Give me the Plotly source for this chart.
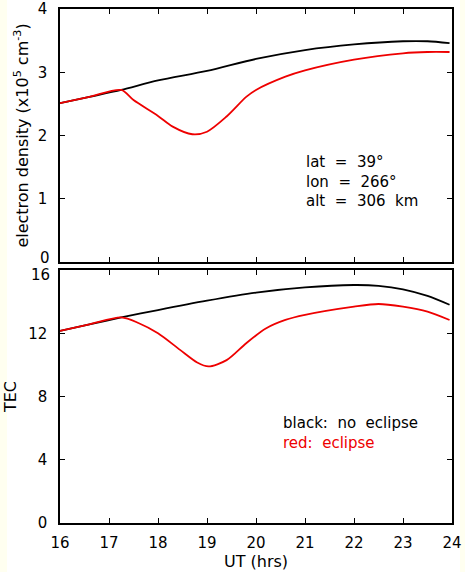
import plotly.graph_objects as go

# ---- data ----
t_ne_black = [16, 16.6, 17.25, 18, 19, 20, 21, 22, 23, 23.5, 23.95]
ne_black = [2.51, 2.61, 2.72, 2.87, 3.02, 3.21, 3.35, 3.44, 3.49, 3.49, 3.46]

t_ne_red = [16, 16.6, 17.25, 17.5, 18, 18.3, 18.7, 19, 19.4, 19.8, 20, 20.6, 21, 22, 23, 23.5, 23.95]
ne_red = [2.51, 2.61, 2.72, 2.56, 2.31, 2.14, 2.02, 2.06, 2.30, 2.61, 2.72, 2.93, 3.03, 3.20, 3.30, 3.32, 3.32]

t_tec_black = [16, 16.6, 17.25, 18, 19, 20, 21, 22, 22.5, 23, 23.5, 23.95]
tec_black = [12.15, 12.56, 13.0, 13.47, 14.06, 14.57, 14.9, 15.05, 15.0, 14.78, 14.36, 13.8]

t_tec_red = [16, 16.6, 17.25, 17.6, 18, 18.45, 18.8, 19.03, 19.4, 19.8, 20.2, 20.6, 21, 22, 22.5, 23, 23.5, 23.95]
tec_red = [12.15, 12.56, 13.0, 12.65, 12.0, 10.95, 10.15, 9.9, 10.3, 11.37, 12.3, 12.84, 13.16, 13.68, 13.85, 13.68, 13.37, 12.84]

x_ticks = [16, 17, 18, 19, 20, 21, 22, 23, 24]
ne_ticks = [0, 1, 2, 3, 4]
tec_ticks = [0, 4, 8, 12, 16]

FONT = "DejaVu Sans, Liberation Sans, sans-serif"
FS = 15
FT = 16
W, H = 465, 572
L, R, T, B = 60, 13, 9, 49

fig = go.Figure()

line_kw = dict(width=1.8, shape="spline", smoothing=0.8)
fig.add_trace(go.Scatter(x=t_ne_black, y=ne_black, mode="lines", line=dict(color="black", **line_kw),
                         xaxis="x", yaxis="y", showlegend=False))
fig.add_trace(go.Scatter(x=t_ne_red, y=ne_red, mode="lines", line=dict(color="#ee0000", **line_kw),
                         xaxis="x", yaxis="y", showlegend=False))
fig.add_trace(go.Scatter(x=t_tec_black, y=tec_black, mode="lines", line=dict(color="black", **line_kw),
                         xaxis="x2", yaxis="y2", showlegend=False))
fig.add_trace(go.Scatter(x=t_tec_red, y=tec_red, mode="lines", line=dict(color="#ee0000", **line_kw),
                         xaxis="x2", yaxis="y2", showlegend=False))

ph = H - T - B
top_dom = [(523 - 262) / ph, 1.0]
bot_dom = [0.0, (523 - 270) / ph]

axis_common = dict(showline=True, linecolor="black", linewidth=1.5, mirror="ticks",
                   ticks="inside", ticklen=5, tickwidth=1.2, tickcolor="black",
                   showgrid=False, zeroline=False, automargin=False,
                   tickfont=dict(family=FONT, size=FS, color="black"))

# tick labels; the two labels at the panel junction are drawn as shifted annotations
ne_ticktext = [str(v) for v in ne_ticks]
tec_ticktext = [str(v) for v in tec_ticks]
ne_ticktext_axis = [""] + ne_ticktext[1:]
tec_ticktext_axis = tec_ticktext[:-1] + [""]

fig.update_layout(
    width=W, height=H,
    margin=dict(l=L, r=R, t=T, b=B),
    paper_bgcolor="#fffff0",
    plot_bgcolor="white",
    font=dict(family=FONT, size=FS, color="black"),
    xaxis=dict(domain=[0, 1], range=[16, 24], tickvals=x_ticks, showticklabels=False, anchor="y", **axis_common),
    yaxis=dict(domain=top_dom, range=[0, 4], tickvals=ne_ticks, ticktext=ne_ticktext_axis, anchor="x",
               ticklabelstandoff=8,
               title=dict(text="electron density (x10<sup>5</sup> cm<sup>-3</sup>)", standoff=5,
                          font=dict(family=FONT, size=FT)), **axis_common),
    xaxis2=dict(domain=[0, 1], range=[16, 24], tickvals=x_ticks, anchor="y2", ticklabelstandoff=5,
                title=dict(text="UT (hrs)", standoff=3, font=dict(family=FONT, size=FT)), **axis_common),
    yaxis2=dict(domain=bot_dom, range=[0, 16], tickvals=tec_ticks, ticktext=tec_ticktext_axis, anchor="x2",
                ticklabelstandoff=8,
                title=dict(text="TEC", standoff=8, font=dict(family=FONT, size=FT)), **axis_common),
    shapes=[dict(type="rect", xref="paper", yref="paper", layer="below",
                 x0=(7 - L) / (W - L - R), x1=(460 - L) / (W - L - R),
                 y0=-B / ph - 0.01, y1=1 + T / ph + 0.01,
                 fillcolor="white", line=dict(width=0))],
)

fig.add_annotation(text=ne_ticktext[0], xref="x domain", x=0, xanchor="right", xshift=-8,
                   yref="y", y=ne_ticks[0], yanchor="middle", yshift=4, showarrow=False,
                   font=dict(family=FONT, size=FS, color="black"))
fig.add_annotation(text=tec_ticktext[-1], xref="x2 domain", x=0, xanchor="right", xshift=-8,
                   yref="y2", y=tec_ticks[-1], yanchor="middle", yshift=-5, showarrow=False,
                   font=dict(family=FONT, size=FS, color="black"))

def xpix_to_t(px):
    return 16 + (px - 60) / 49.0

def ypix_to_ne(py):
    return (262 - py) / (253 / 4)

def ypix_to_tec(py):
    return (523 - py) / (253 / 16)

for txt, py in [("lat  =  39°", 162), ("lon  =  266°", 182), ("alt  =  306  km", 201)]:
    fig.add_annotation(text=txt, x=xpix_to_t(304), xref="x", y=ypix_to_ne(py), yref="y",
                       showarrow=False, xanchor="left", yanchor="middle",
                       font=dict(family=FONT, size=FS, color="black"))
for txt, py, col in [("black:  no  eclipse", 423, "black"), ("red:  eclipse", 443, "#ee0000")]:
    fig.add_annotation(text=txt, x=xpix_to_t(281), xref="x2", y=ypix_to_tec(py), yref="y2",
                       showarrow=False, xanchor="left", yanchor="middle",
                       font=dict(family=FONT, size=FS, color=col))

fig.write_html("out.html", config={"displayModeBar": False},
               post_script="document.body.style.margin='0';document.body.style.background='#fffff0';")
